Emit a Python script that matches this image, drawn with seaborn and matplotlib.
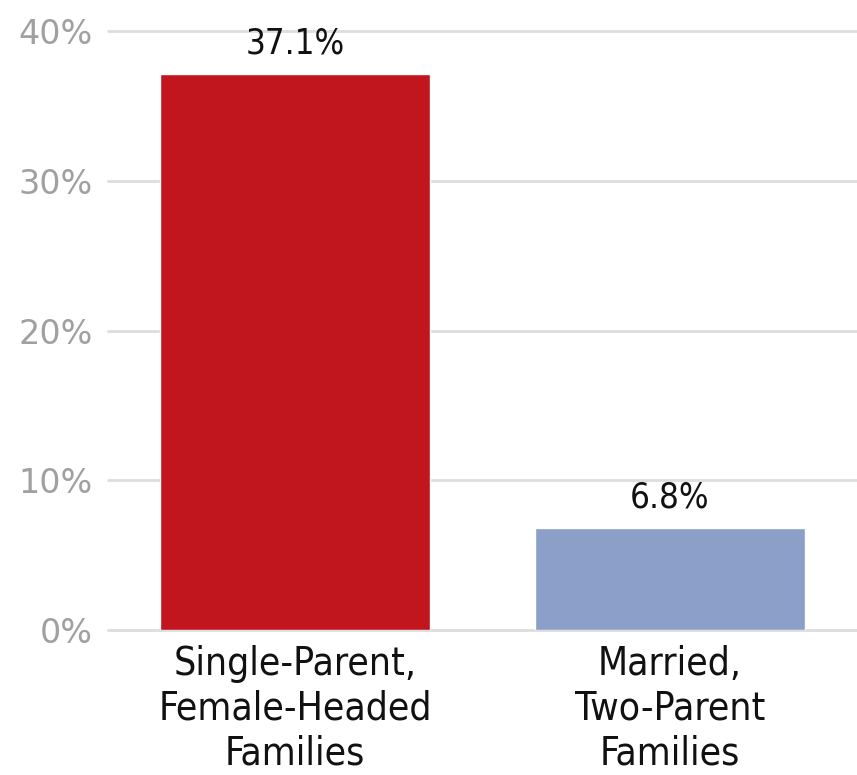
import matplotlib
matplotlib.use("Agg")
import matplotlib.pyplot as plt
import seaborn as sns
import pandas as pd

categories = ["Single-Parent,\nFemale-Headed\nFamilies", "Married,\nTwo-Parent\nFamilies"]
values = [37.1, 6.8]
value_labels = ["37.1%", "6.8%"]
bar_colors = ["#C2161E", "#8C9FC9"]
yticks = [0, 10, 20, 30, 40]

sns.set_style("white")
plt.rcParams["font.family"] = ["DejaVu Sans"]
plt.rcParams["font.stretch"] = "condensed"

df = pd.DataFrame({"group": categories, "rate": values})

fig = plt.figure(figsize=(8.57, 7.75), dpi=100)
ax = fig.add_axes([0.126, 0.187, 0.874, 0.773])

sns.barplot(data=df, x="group", y="rate", hue="group", palette=bar_colors,
            saturation=1, width=0.72, legend=False, ax=ax, zorder=3)

for i, v in enumerate(values):
    ax.text(i, v + 0.9, value_labels[i], ha="center", va="bottom", fontsize=25, color="#111111")

ax.set_ylim(0, 40)
ax.set_xlim(-0.5, 1.5)
ax.set_yticks(yticks)
ax.set_yticklabels([f"{t}%" for t in yticks], fontsize=24, color="#a0a0a0",
                   fontstretch="normal")
ax.tick_params(axis="y", length=0, pad=11)
ax.tick_params(axis="x", length=0, pad=11, labelsize=28, labelcolor="#111111")
ax.yaxis.grid(True, color="#dddddd", linewidth=2, zorder=0)
ax.set_axisbelow(True)
for g in ax.get_ygridlines():
    g.set_clip_on(False)
for s in ax.spines.values():
    s.set_visible(False)
ax.set_xlabel("")
ax.set_ylabel("")
for lbl in ax.get_xticklabels():
    lbl.set_linespacing(1.22)

fig.savefig("out.png", dpi=100)
